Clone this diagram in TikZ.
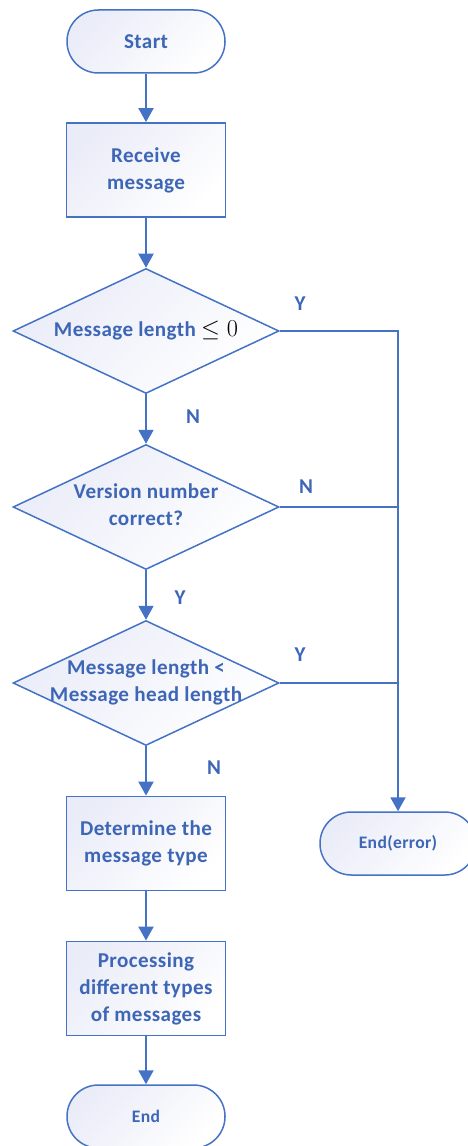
\documentclass[tikz,border=0pt]{standalone}
\usepackage[no-math]{fontspec}
\setmainfont{Carlito}[LetterSpace=2]
\usetikzlibrary{shapes.geometric,arrows.meta}
\definecolor{flowblue}{RGB}{68,114,196}
\definecolor{flowtext}{RGB}{61,102,182}
\definecolor{flowfill}{RGB}{234,236,248}
\newcommand{\dtext}[1]{\makebox[0pt]{\begin{tabular}{@{}c@{}}#1\end{tabular}}}

\begin{document}
\begin{tikzpicture}[x=0.3mm, y=-0.3mm]
        \tikzstyle{flowbase}=[draw=flowblue, line width=0.45mm, top color=flowfill, bottom color=white, shading angle=45, text=flowtext, font=\bfseries\fontsize{18}{23}\selectfont, align=center]
        \tikzstyle{terminal}=[flowbase, rectangle, rounded corners=9.4mm, minimum width=47.4mm, minimum height=18.9mm]
        \tikzstyle{process}=[flowbase, rectangle, minimum width=47.7mm, minimum height=28.3mm]
        \tikzstyle{decision}=[flowbase, diamond, aspect=2.13, inner sep=0pt, minimum width=79.8mm, minimum height=37.5mm]
        \tikzstyle{flag}=[text=flowtext, font=\bfseries\fontsize{18}{23}\selectfont]
        \tikzstyle{flow}=[-{Triangle[width=4.5mm,length=4.2mm]}, draw=flowblue, line width=0.6mm]
        \tikzstyle{branch}=[draw=flowblue, line width=0.6mm]

        \useasboundingbox (0,0) rectangle (467,1146);

        % main column
        \node[terminal] (start) at (146,41.5) {Start};
        \node[process] (receive) at (146,170) {Receive\\message};
        \node[decision] (len) at (146,331) {\dtext{Message length {\color{black}\fontsize{22}{23}\selectfont$\leq 0$}}};
        \node[decision] (ver) at (146,507) {\dtext{Version number\\correct?}};
        \node[decision] (head) at (146,683) {\dtext{Message length <\\Message head length}};
        \node[process] (determine) at (146,843.5) {Determine the\\message type};
        \node[process] (handle) at (146,988.5) {Processing\\different types\\of messages};
        \node[terminal, font=\bfseries\fontsize{15}{18}\selectfont] (end) at (146,1116.5) {End};

        % error exit
        \node[terminal, minimum width=46.8mm, font=\bfseries\fontsize{15}{18}\selectfont] (enderr) at (398,843.5) {End(error)};

        % branch marks
        \node[flag] (len-yes) at (300,304) {Y};
        \node[flag] (len-no) at (193,417) {N};
        \node[flag] (ver-no) at (306,487) {N};
        \node[flag] (ver-yes) at (180,598) {Y};
        \node[flag] (head-yes) at (300,655) {Y};
        \node[flag] (head-no) at (214,768) {N};

        \draw[flow] (start) -- (receive);
        \draw[flow] (receive) -- (len);
        \draw[flow] (len) -- (ver);
        \draw[flow] (ver) -- (head);
        \draw[flow] (head) -- (determine);
        \draw[flow] (determine) -- (handle);
        \draw[flow] (handle) -- (end);
        \draw[flow] (len.east) -| (enderr.north);
        \draw[branch] (ver.east) -- (ver.east -| enderr.north);
        \draw[branch] (head.east) -- (head.east -| enderr.north);
    \end{tikzpicture}
\end{document}
